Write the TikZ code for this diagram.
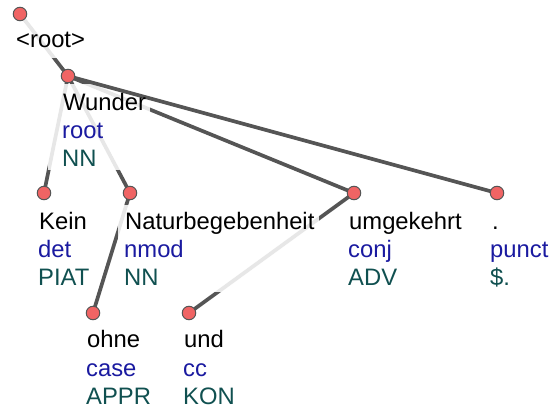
\documentclass[tikz,border=0pt]{standalone}
\usepackage{fontspec}
\setmainfont{Liberation Sans}
\definecolor{edgegray}{HTML}{555555}
\definecolor{deprel}{RGB}{26,26,160}
\definecolor{postag}{RGB}{16,80,80}
\definecolor{dotred}{HTML}{F06464}
\pgfdeclarelayer{edges}
\pgfdeclarelayer{veil}
\pgfdeclarelayer{upper}
\pgfsetlayers{edges,veil,upper,main}
\tikzset{
  tokdot/.style={circle, fill=dotred, draw=edgegray, line width=1pt, minimum size=13.5pt, inner sep=0pt},
  dep/.style={draw=edgegray, line width=3.7pt},
  veilbox/.style={fill=white, fill opacity=0.86, draw=none},
  formtext/.style={anchor=base west, inner sep=0pt, font=\fontsize{23.8}{28}\selectfont, text=black},
  reltext/.style={formtext, text=deprel},
  tagtext/.style={formtext, text=postag},
}
\begin{document}
\begin{tikzpicture}[x=1pt,y=-1pt]
\useasboundingbox (0,0) rectangle (549,411);

% token dots
\node[tokdot] (d0) at (20,14) {};
\node[tokdot] (d1) at (68,76) {};
\node[tokdot] (d2) at (44,193) {};
\node[tokdot] (d3) at (130,193) {};
\node[tokdot] (d4) at (93,313) {};
\node[tokdot] (d5) at (189,313) {};
\node[tokdot] (d6) at (354,193) {};
\node[tokdot] (d7) at (497,193) {};

% token labels: form, relation, tag
\node[formtext] (t0) at (16,48) {<root>};

\node[formtext] (t1) at (63,111) {Wunder};
\node[reltext]  (r1) at (62,139) {root};
\node[tagtext]  (p1) at (62,167) {NN};

\node[formtext] (t2) at (39,230) {Kein};
\node[reltext]  (r2) at (38,258) {det};
\node[tagtext]  (p2) at (38,286) {PIAT};

\node[formtext] (t3) at (125,230) {Naturbegebenheit};
\node[reltext]  (r3) at (124,258) {nmod};
\node[tagtext]  (p3) at (124,286) {NN};

\node[formtext] (t4) at (87,348) {ohne};
\node[reltext]  (r4) at (86,377) {case};
\node[tagtext]  (p4) at (86,405) {APPR};

\node[formtext] (t5) at (184,348) {und};
\node[reltext]  (r5) at (183,377) {cc};
\node[tagtext]  (p5) at (183,405) {KON};

\node[formtext] (t6) at (349,230) {umgekehrt};
\node[reltext]  (r6) at (348,258) {conj};
\node[tagtext]  (p6) at (348,286) {ADV};

\node[formtext] (t7) at (492,230) {.};
\node[reltext]  (r7) at (490,258) {punct};
\node[tagtext]  (p7) at (490,286) {\$.};

% dependency edges
\begin{pgfonlayer}{edges}
  \draw[dep] (d0.center) -- (d1.center);
  \draw[dep] (d1.center) -- (d2.center);
  \draw[dep] (d1.center) -- (d3.center);
  \draw[dep] (d3.center) -- (d4.center);
  \draw[dep] (d1.center) -- (d6.center);
  \draw[dep] (d6.center) -- (d5.center);
\end{pgfonlayer}
\begin{pgfonlayer}{upper}
  \draw[dep] (d1.center) -- (d7.center);
\end{pgfonlayer}

% translucent backgrounds behind the label blocks
\begin{pgfonlayer}{veil}
  \fill[veilbox] (14,18) rectangle (86,58);
  \fill[veilbox] (48,84) rectangle (150,170);
  \fill[veilbox] (118,205) rectangle (319,292);
\end{pgfonlayer}
\end{tikzpicture}
\end{document}
